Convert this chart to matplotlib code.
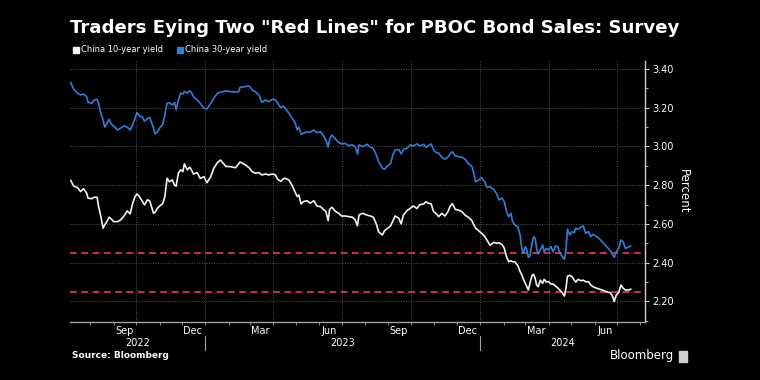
import matplotlib
matplotlib.use("Agg")
import matplotlib.pyplot as plt
import matplotlib.dates as mdates
from matplotlib.lines import Line2D
from matplotlib.patches import Rectangle
import pandas as pd

# readings taken off the chart (China govt bond yields, %)
dates = [
    "2022-07-06", "2022-07-10", "2022-07-15", "2022-07-19", "2022-07-23", "2022-07-27", "2022-07-29",
    "2022-08-03", "2022-08-06", "2022-08-10", "2022-08-12", "2022-08-15", "2022-08-18", "2022-08-20", "2022-08-22", "2022-08-26", "2022-08-29",
    "2022-09-01", "2022-09-06", "2022-09-10", "2022-09-15", "2022-09-19", "2022-09-23", "2022-09-26", "2022-09-29",
    "2022-10-02", "2022-10-05", "2022-10-09", "2022-10-12", "2022-10-16", "2022-10-19", "2022-10-21", "2022-10-24", "2022-10-26", "2022-10-29",
    "2022-11-02", "2022-11-05", "2022-11-08", "2022-11-11", "2022-11-14", "2022-11-18", "2022-11-21", "2022-11-23", "2022-11-26", "2022-11-29",
    "2022-12-02", "2022-12-04", "2022-12-08", "2022-12-11", "2022-12-13", "2022-12-16", "2022-12-21", "2022-12-25", "2022-12-30",
    "2023-01-03", "2023-01-08", "2023-01-12", "2023-01-17", "2023-01-21", "2023-01-28",
    "2023-02-03", "2023-02-10", "2023-02-14", "2023-02-16", "2023-02-23", "2023-02-28",
    "2023-03-04", "2023-03-08", "2023-03-13", "2023-03-17", "2023-03-22", "2023-03-26", "2023-03-31",
    "2023-04-04", "2023-04-07", "2023-04-11", "2023-04-14", "2023-04-17", "2023-04-22", "2023-04-26", "2023-04-30",
    "2023-05-03", "2023-05-05", "2023-05-08", "2023-05-11", "2023-05-16", "2023-05-20", "2023-05-25", "2023-05-29",
    "2023-06-03", "2023-06-07", "2023-06-10", "2023-06-13", "2023-06-15", "2023-06-18", "2023-06-23", "2023-06-27",
    "2023-07-01", "2023-07-06", "2023-07-10", "2023-07-15", "2023-07-19", "2023-07-22", "2023-07-24", "2023-07-29",
    "2023-08-04", "2023-08-08", "2023-08-12", "2023-08-16", "2023-08-19", "2023-08-24", "2023-08-27", "2023-08-30",
    "2023-09-04", "2023-09-07", "2023-09-10", "2023-09-15", "2023-09-18", "2023-09-21", "2023-09-26", "2023-09-30",
    "2023-10-04", "2023-10-09", "2023-10-13", "2023-10-18", "2023-10-21", "2023-10-24", "2023-10-28", "2023-10-31",
    "2023-11-03", "2023-11-07", "2023-11-11", "2023-11-15", "2023-11-19", "2023-11-22", "2023-11-25", "2023-11-29",
    "2023-12-03", "2023-12-08", "2023-12-12", "2023-12-16", "2023-12-21", "2023-12-23", "2023-12-26", "2023-12-30",
    "2024-01-03", "2024-01-07", "2024-01-10", "2024-01-14", "2024-01-19", "2024-01-23", "2024-01-26", "2024-01-30",
    "2024-02-02", "2024-02-05", "2024-02-08", "2024-02-11", "2024-02-13", "2024-02-16", "2024-02-20", "2024-02-23", "2024-02-25", "2024-02-27",
    "2024-03-01", "2024-03-03", "2024-03-05", "2024-03-07", "2024-03-10", "2024-03-12", "2024-03-14", "2024-03-16", "2024-03-18", "2024-03-21", "2024-03-24", "2024-03-26", "2024-03-29",
    "2024-04-01", "2024-04-04", "2024-04-07", "2024-04-10", "2024-04-13", "2024-04-16", "2024-04-19", "2024-04-22", "2024-04-24", "2024-04-26", "2024-04-29",
    "2024-05-02", "2024-05-05", "2024-05-07", "2024-05-10", "2024-05-14", "2024-05-17", "2024-05-20", "2024-05-24", "2024-05-27", "2024-05-30",
    "2024-06-04", "2024-06-08", "2024-06-13", "2024-06-17", "2024-06-22", "2024-06-25", "2024-06-27", "2024-06-30",
    "2024-07-03", "2024-07-06", "2024-07-09", "2024-07-12", "2024-07-16", "2024-07-19",
]

yield_30y = [
    3.33, 3.295, 3.275, 3.266, 3.27, 3.257, 3.228,
    3.223, 3.24, 3.243, 3.22, 3.17, 3.137, 3.10, 3.11, 3.14, 3.115,
    3.106, 3.085, 3.094, 3.106, 3.10, 3.085, 3.11, 3.14,
    3.175, 3.157, 3.154, 3.13, 3.145, 3.15, 3.128, 3.094, 3.065, 3.076,
    3.10, 3.11, 3.163, 3.223, 3.226, 3.214, 3.226, 3.19, 3.24, 3.275,
    3.27, 3.283, 3.275, 3.288, 3.28, 3.257, 3.24, 3.223, 3.197,
    3.194, 3.223, 3.249, 3.275, 3.28, 3.287,
    3.283, 3.281, 3.283, 3.305, 3.309, 3.312,
    3.292, 3.283, 3.266, 3.228, 3.24, 3.231, 3.244,
    3.24, 3.223, 3.20, 3.209, 3.197, 3.171, 3.146, 3.123,
    3.085, 3.10, 3.063, 3.068, 3.076, 3.073, 3.085, 3.071,
    3.076, 3.054, 3.034, 2.996, 3.037, 3.059, 3.037, 3.02,
    3.013, 3.016, 3.004, 3.008, 2.999, 2.961, 3.008, 2.999,
    3.011, 2.996, 2.99, 2.956, 2.922, 2.888, 2.882, 2.896,
    2.913, 2.956, 2.982, 2.984, 2.961, 2.986, 2.99, 3.008,
    3.003, 3.013, 3.003, 3.011, 2.996, 3.003, 3.013, 2.982,
    2.97, 2.965, 2.944, 2.934, 2.944, 2.961, 2.973, 2.951,
    2.947, 2.944, 2.934, 2.913, 2.896, 2.87, 2.818, 2.827,
    2.839, 2.818, 2.789, 2.792, 2.779, 2.755, 2.724, 2.733,
    2.715, 2.664, 2.638, 2.655, 2.612, 2.595, 2.586, 2.543, 2.483, 2.449,
    2.483, 2.466, 2.428, 2.435, 2.50, 2.534, 2.526, 2.474, 2.445, 2.466, 2.492, 2.457, 2.474,
    2.466, 2.483, 2.457, 2.486, 2.483, 2.449, 2.432, 2.418, 2.466, 2.573, 2.543,
    2.56, 2.555, 2.578, 2.573, 2.583, 2.59, 2.552, 2.56, 2.534, 2.547,
    2.534, 2.521, 2.50, 2.483, 2.462, 2.44, 2.428, 2.457,
    2.474, 2.517, 2.508, 2.474, 2.48, 2.486,
]

yield_10y = [
    2.824, 2.795, 2.788, 2.767, 2.782, 2.76, 2.733,
    2.73, 2.738, 2.738, 2.69, 2.638, 2.578, 2.595, 2.605, 2.635, 2.625,
    2.612, 2.612, 2.62, 2.642, 2.667, 2.652, 2.703, 2.738,
    2.755, 2.742, 2.718, 2.698, 2.725, 2.718, 2.693, 2.655, 2.66, 2.68,
    2.696, 2.703, 2.74, 2.836, 2.818, 2.827, 2.80, 2.795, 2.862, 2.879,
    2.87, 2.91, 2.879, 2.893, 2.882, 2.858, 2.865, 2.835, 2.844,
    2.813, 2.844, 2.887, 2.917, 2.93, 2.897,
    2.896, 2.89, 2.91, 2.92, 2.905, 2.89,
    2.87, 2.862, 2.865, 2.853, 2.858, 2.853, 2.858,
    2.853, 2.83, 2.82, 2.832, 2.836, 2.826, 2.80, 2.765,
    2.741, 2.75, 2.703, 2.715, 2.72, 2.707, 2.72, 2.693,
    2.689, 2.674, 2.664, 2.617, 2.676, 2.686, 2.664, 2.655,
    2.641, 2.641, 2.638, 2.635, 2.621, 2.59, 2.646, 2.655,
    2.645, 2.641, 2.635, 2.60, 2.56, 2.543, 2.565, 2.575,
    2.59, 2.615, 2.641, 2.629, 2.60, 2.646, 2.67, 2.68,
    2.693, 2.68, 2.70, 2.703, 2.715, 2.707, 2.703, 2.664,
    2.655, 2.638, 2.655, 2.641, 2.662, 2.69, 2.705, 2.675,
    2.672, 2.663, 2.645, 2.636, 2.617, 2.60, 2.578, 2.565,
    2.552, 2.535, 2.517, 2.49, 2.505, 2.50, 2.503, 2.494,
    2.475, 2.431, 2.405, 2.41, 2.405, 2.405, 2.385, 2.355, 2.34, 2.319,
    2.293, 2.276, 2.259, 2.293, 2.335, 2.34, 2.32, 2.285, 2.276, 2.31, 2.293, 2.314, 2.30,
    2.302, 2.29, 2.29, 2.28, 2.27, 2.258, 2.245, 2.228, 2.27, 2.33, 2.335,
    2.328, 2.31, 2.30, 2.314, 2.307, 2.31, 2.302, 2.302, 2.285, 2.276,
    2.268, 2.263, 2.256, 2.25, 2.245, 2.225, 2.20, 2.235,
    2.245, 2.285, 2.268, 2.259, 2.259, 2.263,
]

red_lines = [2.45, 2.25]

month_label_dates = ["2022-09-15", "2022-12-15", "2023-03-15", "2023-06-15",
                     "2023-09-15", "2023-12-15", "2024-03-15", "2024-06-15"]
month_labels = ["Sep", "Dec", "Mar", "Jun", "Sep", "Dec", "Mar", "Jun"]
quarter_starts = ["2022-10-01", "2023-01-01", "2023-04-01", "2023-07-01",
                  "2023-10-01", "2024-01-01", "2024-04-01", "2024-07-01"]
years = ["2022", "2023", "2024"]
year_breaks = ["2023-01-01", "2024-01-01"]
y_ticks = [2.20, 2.40, 2.60, 2.80, 3.00, 3.20, 3.40]

BLUE = "#2f7ed8"
WHITE = "#f2f2f2"
RED = "#cf2f45"
GRID = "#555555"
AXIS = "#a0a0a0"

x = pd.to_datetime(dates)

fig = plt.figure(figsize=(7.6, 3.8), dpi=100, facecolor="black")
ax = fig.add_axes([70 / 760, 1 - 322 / 380, 575 / 760, 261 / 380])
ax.set_facecolor("black")

x0 = pd.Timestamp("2022-07-05")
x1 = pd.Timestamp("2024-08-07")
ax.set_xlim(x0, x1)
ax.set_ylim(2.094, 3.441)

# grid
for v in y_ticks:
    ax.axhline(v, color=GRID, lw=0.7, ls=(0, (1, 1.5)), zorder=1)
for d in quarter_starts:
    ax.axvline(pd.Timestamp(d), color=GRID, lw=0.7, ls=(0, (1, 1.5)), zorder=1)

for r in red_lines:
    ax.axhline(r, color=RED, lw=1.4, ls=(0, (3.5, 2.3)), zorder=2)

ax.plot(x, yield_30y, color=BLUE, lw=1.2, zorder=3)
ax.plot(x, yield_10y, color=WHITE, lw=1.2, zorder=3)

# spines
for s in ["left", "top"]:
    ax.spines[s].set_visible(False)
ax.spines["bottom"].set_color(AXIS)
ax.spines["right"].set_color("#d0d0d0")
ax.spines["bottom"].set_linewidth(1.0)
ax.spines["right"].set_linewidth(1.0)

# y axis on the right
ax.yaxis.tick_right()
ax.set_yticks(y_ticks)
ax.set_yticklabels([f"{v:.2f}" for v in y_ticks])
ax.set_yticks([2.10, 2.30, 2.50, 2.70, 2.90, 3.10, 3.30], minor=True)
ax.tick_params(axis="y", which="major", length=3, width=0.8, color="#d0d0d0",
               labelcolor="white", labelsize=7, pad=2)
ax.tick_params(axis="y", which="minor", length=2, width=0.6, color="#d0d0d0")
ax.yaxis.set_label_position("right")
ax.set_ylabel("Percent", color="white", fontsize=8.5, rotation=270, labelpad=12)

# x axis: month ticks, labels mid-month
ax.xaxis.set_minor_locator(mdates.MonthLocator())
ax.set_xticks(pd.to_datetime(month_label_dates))
ax.set_xticklabels(month_labels)
ax.tick_params(axis="x", which="major", length=0, labelcolor="white", labelsize=7, pad=3)
ax.tick_params(axis="x", which="minor", length=2.5, width=0.6, color=AXIS)

# year labels and separators
trans = ax.get_xaxis_transform()
bounds = [x0] + [pd.Timestamp(d) for d in year_breaks] + [x1]
for i, yr in enumerate(years):
    mid = bounds[i] + (bounds[i + 1] - bounds[i]) / 2
    ax.text(mid, -0.08, yr, transform=trans, ha="center", va="center",
            color="white", fontsize=7)
for d in year_breaks:
    ax.add_line(Line2D([pd.Timestamp(d)] * 2, [-0.055, -0.107], transform=trans,
                       color=AXIS, lw=0.8, clip_on=False))

# title, legend, source
fig.text(70 / 760, 1 - 28 / 380, 'Traders Eying Two "Red Lines" for PBOC Bond Sales: Survey',
         color="white", fontsize=13.1, fontweight="bold", va="center", ha="left")

leg_y = 1 - 50 / 380
fig.patches.append(Rectangle((73 / 760, leg_y - 3 / 380), 6 / 760, 6 / 380,
                             transform=fig.transFigure, color=WHITE))
fig.text(81 / 760, leg_y, "China 10-year yield", color="white", fontsize=6.0, va="center")
fig.patches.append(Rectangle((177 / 760, leg_y - 3 / 380), 6 / 760, 6 / 380,
                             transform=fig.transFigure, color=BLUE))
fig.text(185 / 760, leg_y, "China 30-year yield", color="white", fontsize=6.0, va="center")

fig.text(72 / 760, 1 - 356 / 380, "Source: Bloomberg", color="white", fontsize=6.5,
         fontweight="bold", va="center")
fig.text(674 / 760, 1 - 356 / 380, "Bloomberg", color="white", fontsize=8.5,
         va="center", ha="right")
fig.patches.append(Rectangle((679 / 760, 1 - 362 / 380), 8 / 760, 11 / 380,
                             transform=fig.transFigure, color="#cfcfcf"))

fig.savefig("out.png", dpi=100, facecolor="black")
